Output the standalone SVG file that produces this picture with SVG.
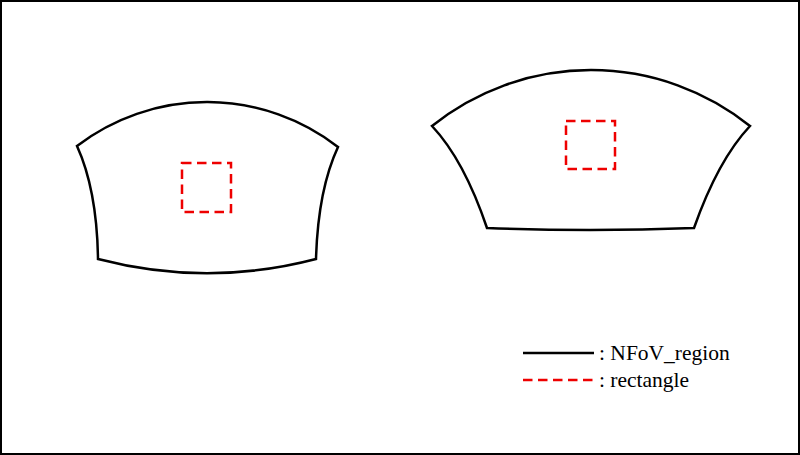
<svg xmlns="http://www.w3.org/2000/svg" width="800" height="455" viewBox="0 0 800 455">
<style>
.region{fill:none;stroke:#000;stroke-width:2.5;stroke-linejoin:miter}
.rect{fill:none;stroke:#e00;stroke-width:2.5;stroke-dasharray:9.5 5.5}
.lbl{font-family:"Liberation Serif",serif;font-size:21.5px;fill:#000}
</style>
<rect x="1" y="1" width="798" height="453" fill="#fff" stroke="#000" stroke-width="2"/>
<g id="region1">
<path class="region" d="M77,146 A214,214 0 0 1 338,147 Q318,190 316,259 A431,431 0 0 1 98,259 Q97,190 77,146 Z"/>
<rect class="rect" x="182" y="163" width="49" height="49"/>
</g>
<g id="region2">
<path class="region" d="M432,126 A254,254 0 0 1 750,126 Q718,160 694,228 Q590,232 487,228 Q464,160 432,126 Z"/>
<rect class="rect" x="566" y="121" width="49" height="48"/>
</g>
<g id="legend">
<line x1="523" y1="353" x2="594" y2="353" stroke="#000" stroke-width="2.5"/>
<text class="lbl" x="599" y="360">: NFoV_region</text>
<line x1="523" y1="380" x2="594" y2="380" class="rect"/>
<text class="lbl" x="599" y="387">: rectangle</text>
</g>
</svg>
